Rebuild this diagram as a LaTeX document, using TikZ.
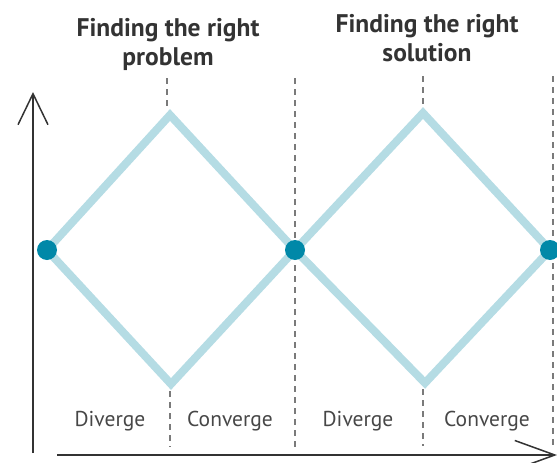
\documentclass[tikz,border=0pt]{standalone}
\usepackage{fontspec}
\setmainfont{PT Sans}
\usetikzlibrary{arrows.meta}
\definecolor{pathblue}{HTML}{B5DCE4}
\definecolor{dotblue}{HTML}{0088A8}
\definecolor{guidegray}{HTML}{7A7A7A}
\definecolor{axisgray}{HTML}{333333}
\begin{document}
\begin{tikzpicture}[x=1pt, y=-1pt,
    path_style/.style={draw=pathblue, line width=8pt, line join=miter},
    dot_style/.style={circle, fill=dotblue, inner sep=0pt, minimum size=20pt},
    guide_style/.style={draw=guidegray, line width=1.4pt, dash pattern=on 6pt off 5pt},
    axis_style/.style={draw=axisgray, line width=1.5pt},
    title_style/.style={font=\fontsize{25.5}{29}\selectfont\bfseries, text=axisgray, align=center, anchor=base},
    label_style/.style={font=\fontsize{21.5}{24}\selectfont, text=axisgray!90, anchor=base}]
      \useasboundingbox (0,0) rectangle (557,463);
      % diamond corners
      \draw
        (47,250) coordinate (left)
        (295,250) coordinate (mid)
        (550,250) coordinate (right)
        (170,115) coordinate (top1)
        (171,384) coordinate (bottom1)
        (423,113) coordinate (top2)
        (425,383) coordinate (bottom2);
      % guides
      \begin{scope}[guide_style]
        \draw (167,78) -- (167,107);
        \draw (170,391) -- (170,447);
        \draw (295,78) -- (295,447);
        \draw (423,76) -- (423,106);
        \draw (423,389) -- (423,446);
        \draw (553,76) -- (553,446);
      \end{scope}
      % double diamond
      \draw[path_style] (left) -- (top1) -- (mid) -- (top2) -- (right)
        -- (bottom2) -- (mid) -- (bottom1) -- cycle;
      \draw
        (left) node[dot_style] (start){}
        (mid) node[dot_style] (middle){}
        (right) node[dot_style] (finish){};
      % axes
      \draw[axis_style, -{Straight Barb[length=31pt, width=30pt]}] (33,453) coordinate (origin) -- (33,92) coordinate (up);
      \draw[axis_style, -{Straight Barb[length=40pt, width=29pt]}] (57,455) coordinate (along) -- (557,455) coordinate (ahead);
      % texts
      \draw
        (168,65) node[title_style] (title1) {Finding the right\\problem}
        (427,61) node[title_style] (title2) {Finding the right\\solution}
        (110,426) node[label_style] (div1) {Diverge}
        (230,426) node[label_style] (con1) {Converge}
        (358,426) node[label_style] (div2) {Diverge}
        (487,426) node[label_style] (con2) {Converge};
    \end{tikzpicture}
\end{document}
